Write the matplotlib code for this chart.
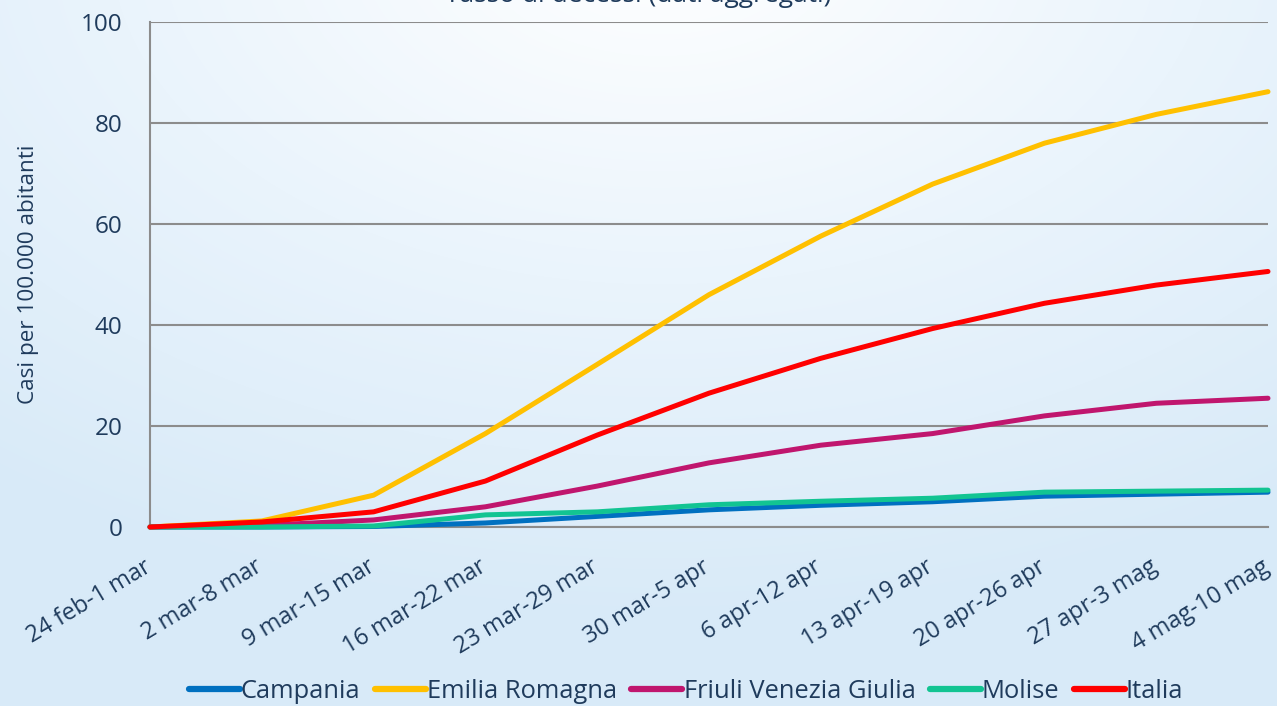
import numpy as np
import matplotlib
matplotlib.use("Agg")
import matplotlib.pyplot as plt
from matplotlib.colors import LinearSegmentedColormap
from matplotlib.transforms import ScaledTranslation

categories = ["24 feb-1 mar", "2 mar-8 mar", "9 mar-15 mar", "16 mar-22 mar",
              "23 mar-29 mar", "30 mar-5 apr", "6 apr-12 apr", "13 apr-19 apr",
              "20 apr-26 apr", "27 apr-3 mag", "4 mag-10 mag"]
campania = [0.0, 0.0, 0.1, 0.8, 2.1, 3.4, 4.3, 5.0, 6.1, 6.5, 6.9]
emilia = [0.0, 1.2, 6.3, 18.5, 32.2, 46.0, 57.6, 67.9, 76.0, 81.7, 86.2]
friuli = [0.0, 0.3, 1.4, 4.0, 8.1, 12.7, 16.2, 18.5, 22.0, 24.5, 25.5]
molise = [0.0, 0.0, 0.2, 2.4, 3.0, 4.4, 5.1, 5.7, 6.9, 7.1, 7.3]
italia = [0.0, 1.0, 3.0, 9.1, 18.2, 26.5, 33.4, 39.3, 44.3, 47.9, 50.6]
series_names = ["Campania", "Emilia Romagna", "Friuli Venezia Giulia", "Molise", "Italia"]
series_colors = ["#0070C0", "#FFC000", "#C0166E", "#12C492", "#FF0000"]
yticks = [0, 20, 40, 60, 80, 100]
title = "Tasso di decessi (dati aggregati)"
ylabel = "Casi per 100.000 abitanti"

plt.rcParams['font.family'] = ['Open Sans', 'DejaVu Sans']
text_color = "#1F3B5C"

W, H = 1277, 706
fig = plt.figure(figsize=(W / 100, H / 100), dpi=100)

# background gradient
bg = fig.add_axes([0, 0, 1, 1], zorder=-10)
yy, xx = np.mgrid[0:H, 0:W]
d = np.sqrt(((xx - 660) / 1.0) ** 2 + ((yy + 60) * 1.6) ** 2)
t = np.clip(d / 1100.0, 0, 1)
cmap = LinearSegmentedColormap.from_list("bg", ["#FFFFFF", "#EAF4FC", "#D8EAF8"])
bg.imshow(t, cmap=cmap, aspect="auto", extent=[0, 1, 0, 1], vmin=0, vmax=1)
bg.axis("off")

ax = fig.add_axes([150 / W, 1 - 527 / H, (1268 - 150) / W, (527 - 22) / H])
ax.set_facecolor("none")
x = np.arange(len(categories))
data = [campania, emilia, friuli, molise, italia]
for vals, name, col in zip(data, series_names, series_colors):
    ax.plot(x, vals, color=col, lw=3.6, label=name, solid_capstyle="round",
            solid_joinstyle="round", clip_on=False, zorder=3)

ax.set_xlim(0, len(categories) - 1)
ax.set_ylim(0, 100)
ax.set_yticks(yticks)
ax.yaxis.grid(True, color="#8C8C8C", lw=1.5)
ax.set_axisbelow(True)
for s in ["top", "right"]:
    ax.spines[s].set_visible(False)
for s in ["left", "bottom"]:
    ax.spines[s].set_color("#8C8C8C")
    ax.spines[s].set_linewidth(1.5)
ax.tick_params(axis="y", length=0, pad=20, labelsize=17.5, labelcolor=text_color)
ax.tick_params(axis="x", length=0, pad=20, labelsize=17, labelcolor=text_color)
ax.set_xticks(x)
ax.set_xticklabels(categories, rotation=31, ha="right", va="top", rotation_mode="anchor")
shift = ScaledTranslation(-7 / 100, 0, fig.dpi_scale_trans)
for lab in ax.get_xticklabels():
    lab.set_transform(lab.get_transform() + shift)
ax.set_ylabel(ylabel, fontsize=16.2, color=text_color, labelpad=30)

fig.text(0.5, 1 - 2 / H, title, ha="center", va="baseline", fontsize=19,
         color=text_color)

leg = fig.legend(loc="center", bbox_to_anchor=(686 / W, 1 - 691 / H),
                 ncol=5, frameon=False, fontsize=18.4, handlelength=2.0,
                 handletextpad=0.05, columnspacing=0.55, labelcolor=text_color,
                 borderpad=0, borderaxespad=0)
for h in leg.get_lines():
    h.set_linewidth(4.5)

fig.savefig("out.png", dpi=100)
